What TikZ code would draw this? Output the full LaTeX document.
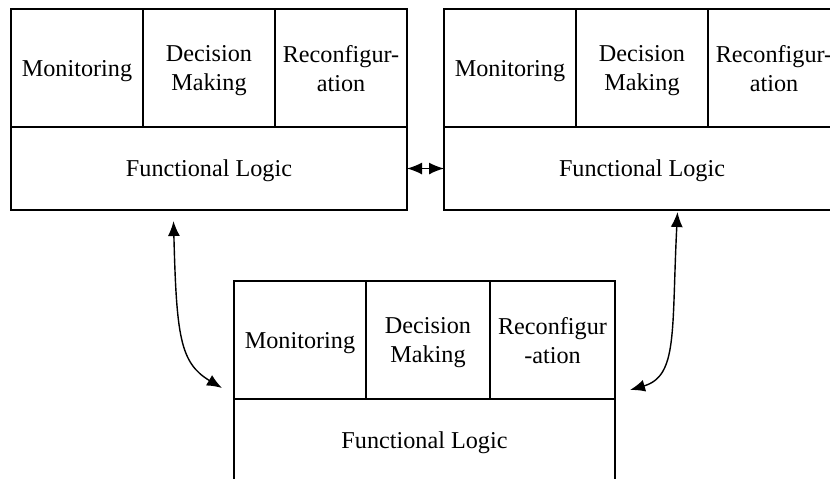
\documentclass[tikz,border=0pt]{standalone}
\usepackage{fontspec}
\setmainfont{Liberation Serif}
\usepackage{tikz}
\tikzset{
task/.style={draw, line width=0.9pt, outer sep=0pt, inner sep=2pt, text depth=0pt, align=center, minimum height=59pt, minimum width=66pt},
logic/.style={draw, line width=0.9pt, outer sep=0pt, text depth=0pt, minimum height=41.5pt, minimum width=198pt},
link/.style={<->, >={Latex[length=7.5pt,width=6pt]}, line width=0.7pt}
}
\usetikzlibrary{calc, positioning, arrows.meta}

\begin{document}
\begin{tikzpicture}[x=0.5pt, y=-0.5pt, node distance=0pt, font=\rmfamily\fontsize{12.1}{14.5}\selectfont]
			\useasboundingbox (0,0) rectangle (830,478);
			% first controller
			\node[task, anchor=north west] (monA) at (11,9) {Monitoring};
			\node[task, right = of monA] (decA) {Decision\\Making};
			\node[task, right = of decA] (recA) {Reconfigur-\\ation};
			\node[logic, below right = of monA.south west] (FLa) {Functional Logic};
			% second controller
			\node[task, anchor=north west] (monB) at (444,9) {Monitoring};
			\node[task, right = of monB] (decB) {Decision\\Making};
			\node[task, right = of decB] (recB) {Reconfigur-\\ation};
			\node[logic, below right = of monB.south west] (FLb) {Functional Logic};
			% third controller
			\node[task, anchor=north west] (monC) at (234,281) {Monitoring};
			\node[task, minimum width=62pt, right = of monC] (decC) {Decision\\Making};
			\node[task, minimum width=62.5pt, right = of decC] (recC) {Reconfigur\\-ation};
			\node[logic, minimum width=190.5pt, below right = of monC.south west] (FLc) {Functional Logic};
			% ----
			\coordinate (aC) at ($(FLa.south)+(-35.5,11)$);
			\coordinate (cA) at ($(monC.south west)+(-12,-11)$);
			\coordinate (bC) at ($(FLb.south)+(35.5,2)$);
			\coordinate (cB) at ($(recC.south east)+(15,-9)$);

			\draw[link] (FLa.east) -- (FLb.west);
			\draw[link] (aC) .. controls +(3,115) and +(-42,-25) .. (cA);
			\draw[link] (bC) .. controls +(-6,120) and +(48,-14) .. (cB);
		\end{tikzpicture}
\end{document}
